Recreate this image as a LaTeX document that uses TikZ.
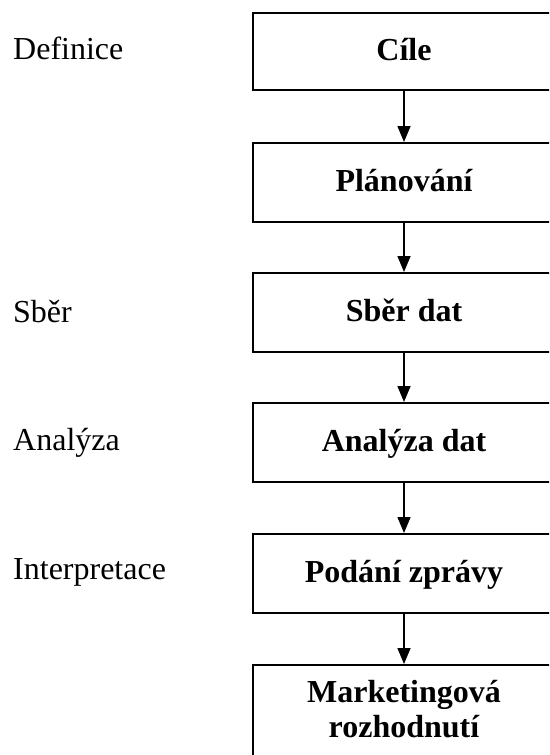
\documentclass[tikz,border=0pt]{standalone}
\usepackage{fontspec}
\setmainfont{Liberation Serif}
\usetikzlibrary{arrows.meta}
\begin{document}
\begin{tikzpicture}[x=1pt,y=-1pt,
  stepbox/.style={draw=black, line width=2pt, minimum width=302pt, minimum height=79pt,
    inner sep=0pt, font=\fontsize{32}{35}\selectfont\bfseries, text height=22pt, text depth=4pt},
  boxtext/.style={anchor=base, inner sep=0pt, font=\fontsize{32}{35}\selectfont\bfseries},
  sidelabel/.style={anchor=base west, inner sep=0pt, font=\fontsize{32}{35}\selectfont},
  flow/.style={line width=1.5pt, -{Triangle[width=13pt,length=16pt]}}]
\path[use as bounding box, clip] (0,0) rectangle (549,755);
\fill[white] (0,0) rectangle (549,755);
\node[stepbox, minimum height=77pt] (c1) at (404,51.5) {Cíle};
\node[stepbox] (c2) at (404,182.5) {Plánování};
\node[stepbox] (c3) at (404,312.5) {Sběr dat};
\node[stepbox] (c4) at (404,442.5) {Analýza dat};
\node[stepbox] (c5) at (404,573.5) {Podání zprávy};
\node[stepbox, minimum height=110pt, anchor=north] (c6) at (404,664) {};
\node[boxtext] (t6a) at (404,702) {Marketingová};
\node[boxtext] (t6b) at (404,737) {rozhodnutí};
\draw[flow] (c1.south) -- (c2.north);
\draw[flow] (c2.south) -- (c3.north);
\draw[flow] (c3.south) -- (c4.north);
\draw[flow] (c4.south) -- (c5.north);
\draw[flow] (c5.south) -- (c6.north);
\node[sidelabel] (l1) at (13,59) {Definice};
\node[sidelabel] (l2) at (13,322) {Sběr};
\node[sidelabel] (l3) at (13,450) {Analýza};
\node[sidelabel] (l4) at (13,579) {Interpretace};
\end{tikzpicture}
\end{document}
